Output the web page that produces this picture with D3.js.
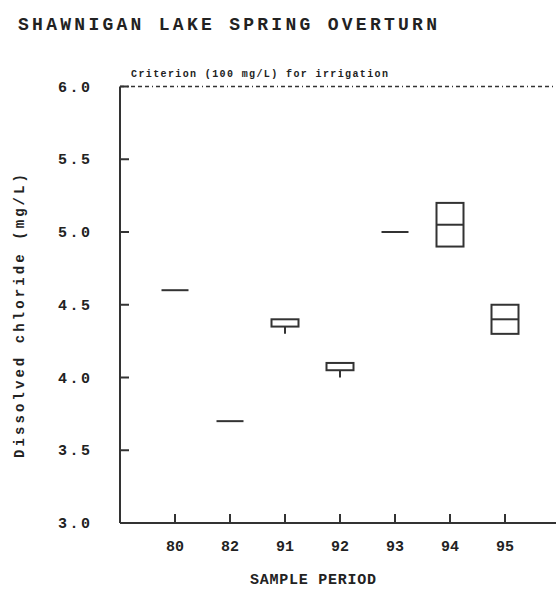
<!DOCTYPE html>
<html>
<head>
<meta charset="utf-8">
<script src="https://cdn.jsdelivr.net/npm/d3@7"></script>
<style>
  body { margin: 0; background: #fff; }
  svg { display: block; }
  text { font-family: "Liberation Mono", "DejaVu Sans Mono", monospace; font-weight: bold; fill: #222; }
</style>
</head>
<body>
<div id="chart"></div>
<script>
// Data
const periods = ["80", "82", "91", "92", "93", "94", "95"];
const mins    = [4.6, 3.7, 4.30, 4.00, 5.0, 4.90, 4.3];
const q1s     = [4.6, 3.7, 4.35, 4.05, 5.0, 4.90, 4.3];
const medians = [4.6, 3.7, 4.40, 4.10, 5.0, 5.05, 4.4];
const q3s     = [4.6, 3.7, 4.40, 4.10, 5.0, 5.20, 4.5];
const maxs    = [4.6, 3.7, 4.40, 4.10, 5.0, 5.20, 4.5];
const yTicks = [3.0, 3.5, 4.0, 4.5, 5.0, 5.5, 6.0];
const criterion = 6.0;

const width = 556, height = 593;
const svg = d3.select("#chart")
  .append("svg")
  .attr("width", width)
  .attr("height", height);

const ink = "#333";

// Scales
const x = d3.scaleLinear().domain([0, 8]).range([120, 560]);
const y = d3.scaleLinear().domain([3, 6]).range([523, 86.5]);

// Title
svg.append("text")
  .attr("x", 18).attr("y", 30)
  .attr("font-size", 18)
  .attr("textLength", 419)
  .attr("lengthAdjust", "spacing")
  .text("SHAWNIGAN LAKE SPRING OVERTURN");

// Criterion line
svg.append("line")
  .attr("x1", 120).attr("x2", width)
  .attr("y1", y(criterion)).attr("y2", y(criterion))
  .attr("stroke", ink).attr("stroke-width", 1.5)
  .attr("stroke-dasharray", "4,3,1,3,4,3,4,3");

svg.append("text")
  .attr("x", 131).attr("y", 77)
  .attr("font-size", 10)
  .attr("textLength", 257)
  .attr("lengthAdjust", "spacing")
  .text("Criterion (100 mg/L) for irrigation");

// Axes lines
svg.append("line")
  .attr("x1", 120).attr("x2", 120)
  .attr("y1", y(6)).attr("y2", y(3))
  .attr("stroke", ink).attr("stroke-width", 2);
svg.append("line")
  .attr("x1", 120).attr("x2", width)
  .attr("y1", y(3)).attr("y2", y(3))
  .attr("stroke", ink).attr("stroke-width", 2);

// Y ticks
const yAxis = svg.append("g");
yTicks.forEach(t => {
  yAxis.append("line")
    .attr("x1", 120).attr("x2", 129)
    .attr("y1", y(t)).attr("y2", y(t))
    .attr("stroke", ink).attr("stroke-width", 2);
  yAxis.append("text")
    .attr("x", 90).attr("y", y(t) + 5)
    .attr("text-anchor", "end")
    .attr("font-size", 15)
    .attr("textLength", 32)
    .attr("lengthAdjust", "spacing")
    .text(t.toFixed(1));
});

// X ticks
periods.forEach((p, i) => {
  svg.append("line")
    .attr("x1", x(i + 1)).attr("x2", x(i + 1))
    .attr("y1", y(3)).attr("y2", y(3) - 9)
    .attr("stroke", ink).attr("stroke-width", 2);
  svg.append("text")
    .attr("x", x(i + 1)).attr("y", 551)
    .attr("text-anchor", "middle")
    .attr("font-size", 15)
    .text(p);
});

// Axis titles
svg.append("text")
  .attr("x", 313).attr("y", 584)
  .attr("text-anchor", "middle")
  .attr("font-size", 15)
  .attr("textLength", 126)
  .attr("lengthAdjust", "spacing")
  .text("SAMPLE PERIOD");

svg.append("text")
  .attr("transform", "translate(24,316) rotate(-90)")
  .attr("text-anchor", "middle")
  .attr("font-size", 14)
  .attr("textLength", 284)
  .attr("lengthAdjust", "spacing")
  .text("Dissolved chloride (mg/L)");

// Boxes
const boxW = 27;
const marks = svg.append("g")
  .attr("fill", "none")
  .attr("stroke", ink)
  .attr("stroke-width", 2);

periods.forEach((p, i) => {
  const cx = x(i + 1);
  if (q3s[i] === q1s[i]) {
    marks.append("line")
      .attr("x1", cx - boxW / 2).attr("x2", cx + boxW / 2)
      .attr("y1", y(medians[i])).attr("y2", y(medians[i]));
    return;
  }
  if (mins[i] < q1s[i]) {
    marks.append("line")
      .attr("x1", cx).attr("x2", cx)
      .attr("y1", y(q1s[i])).attr("y2", y(mins[i]));
  }
  if (maxs[i] > q3s[i]) {
    marks.append("line")
      .attr("x1", cx).attr("x2", cx)
      .attr("y1", y(q3s[i])).attr("y2", y(maxs[i]));
  }
  marks.append("rect")
    .attr("x", cx - boxW / 2)
    .attr("y", y(q3s[i]))
    .attr("width", boxW)
    .attr("height", y(q1s[i]) - y(q3s[i]));
  if (medians[i] > q1s[i] && medians[i] < q3s[i]) {
    marks.append("line")
      .attr("x1", cx - boxW / 2).attr("x2", cx + boxW / 2)
      .attr("y1", y(medians[i])).attr("y2", y(medians[i]));
  }
});
</script>
</body>
</html>
